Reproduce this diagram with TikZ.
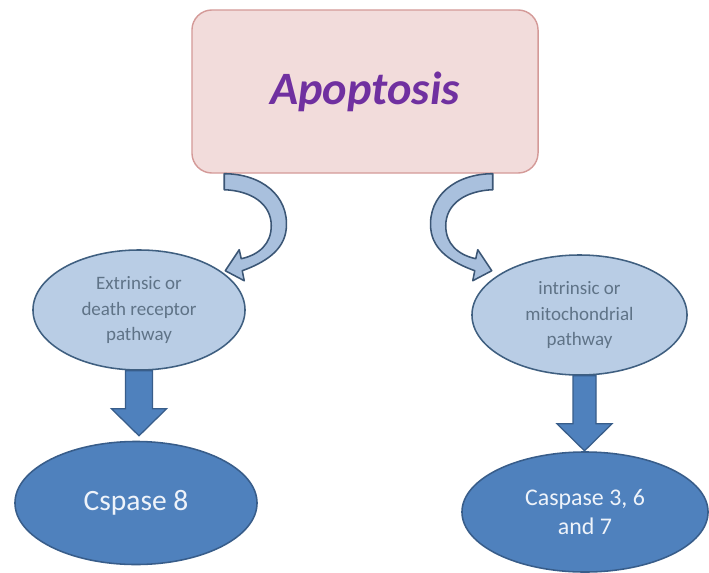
\documentclass[tikz,border=0pt]{standalone}
\usepackage{fontspec}
\setmainfont{Carlito}
\usetikzlibrary{shapes.geometric,calc}
\definecolor{boxfill}{HTML}{F2DCDB}
\definecolor{boxline}{HTML}{D49A98}
\definecolor{apotext}{HTML}{7030A0}
\definecolor{lightfill}{HTML}{B9CDE5}
\definecolor{lightline}{HTML}{3F5F80}
\definecolor{lighttext}{HTML}{5F7387}
\definecolor{darkfill}{HTML}{4F81BD}
\definecolor{darkline}{HTML}{385D8A}
\definecolor{curvefill}{HTML}{A9C0DD}
\definecolor{curveline}{HTML}{3B5675}
\definecolor{darktext}{HTML}{EEF3FA}
\tikzset{
  apobox/.style={rectangle, rounded corners=0.5cm, draw=boxline, fill=boxfill, line width=1pt,
    minimum width=8.65cm, minimum height=4.075cm, text=apotext,
    font=\fontsize{33}{40}\selectfont\bfseries\itshape},
  pathway/.style={ellipse, draw=lightline, fill=lightfill, line width=1.1pt, inner sep=0pt,
    text=lighttext, align=center, font=\fontsize{13.5}{17.8}\selectfont},
  caspase/.style={ellipse, draw=darkline, fill=darkfill, line width=1.1pt, inner sep=0pt,
    text=darktext, align=center},
  downarrow/.style={draw=darkline, fill=darkfill, line width=0.9pt, line join=miter},
  curvearrow/.style={draw=curveline, fill=curvefill, line width=1.1pt, line join=round}
}
\begin{document}
\begin{tikzpicture}[x=0.025cm, y=-0.025cm]
\useasboundingbox (0,0) rectangle (709,572);
\fill[white] (0,0) rectangle (709,572);

\node[apobox] (apo) at (365,91.5) {Apoptosis};

\node[pathway, minimum width=5.3cm, minimum height=3.0cm] (ext) at (139,310)
  {Extrinsic or\\death receptor\\pathway};
\node[pathway, minimum width=5.375cm, minimum height=3.0cm] (int) at (579.5,315)
  {intrinsic or\\mitochondrial\\pathway};

\node[caspase, minimum width=6.05cm, minimum height=3.075cm, font=\fontsize{21}{26}\selectfont] (cs8) at (136,503)
  {Cspase 8};
\node[caspase, minimum width=6.15cm, minimum height=3.0cm, font=\fontsize{17}{21.3}\selectfont] (cs367) at (585,512)
  {Caspase 3, 6\\and 7};

% straight block arrows
\draw[downarrow] ($(ext.south)+(-13.5,0)$) -- ++(0,38) -- ++(-14,0)
  -- ($(ext.south)+(0,65)$) -- ($(ext.south)+(27.5,38)$) -- ++(-14,0)
  -- ($(ext.south)+(13.5,0)$) -- cycle;
\draw[downarrow] ($(int.south)+(-6.5,0)$) -- ++(0,48) -- ++(-16,0)
  -- ($(int.south)+(5,75)$) -- ($(int.south)+(32.5,48)$) -- ++(-16,0)
  -- ($(int.south)+(16.5,0)$) -- cycle;

% curved arrows
\begin{scope}[shift={(apo.south west)}]
\draw[curvearrow] (33,0) .. controls (70,0) and (98,22) .. (95,55)
  .. controls (93,77) and (73,89) .. (51,97) -- (53,107) -- (34,97) -- (48,76) -- (50,85)
  .. controls (68,81) and (80,70) .. (80,52) .. controls (80,30) and (60,17) .. (33,16) -- cycle;
\end{scope}
\begin{scope}[shift={($(apo.south east)+(-13,0)$)}, xscale=-1]
\draw[curvearrow] (33,0) .. controls (70,0) and (98,22) .. (95,55)
  .. controls (93,77) and (73,89) .. (51,97) -- (53,107) -- (34,97) -- (48,76) -- (50,85)
  .. controls (68,81) and (80,70) .. (80,52) .. controls (80,30) and (60,17) .. (33,16) -- cycle;
\end{scope}
\end{tikzpicture}
\end{document}
